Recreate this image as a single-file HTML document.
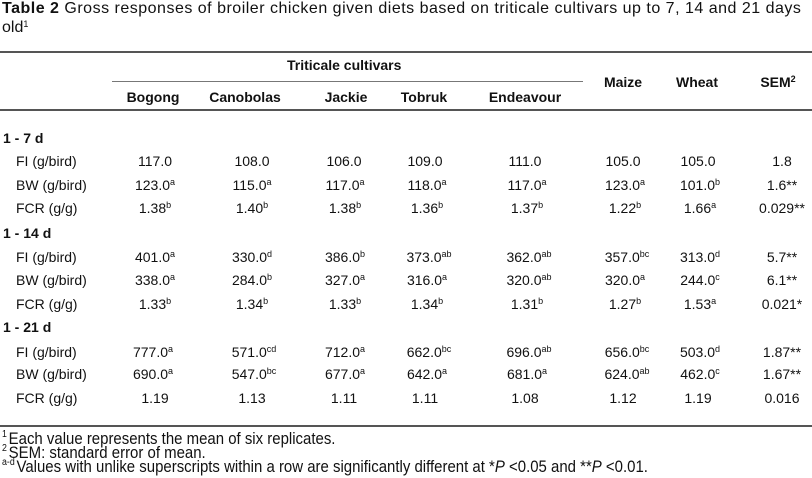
<!DOCTYPE html>
<html><head><meta charset="utf-8"><style>
body{margin:0;background:#fff;width:812px;height:478px;position:relative;overflow:hidden;font-family:"Liberation Sans",Arial,sans-serif;color:#111;}
.t{position:absolute;font-size:14px;white-space:nowrap;line-height:16px}
.r{position:absolute;left:0;width:812px;height:16px}
.c{position:absolute;width:120px;margin-left:-60px;text-align:center;font-size:14px;line-height:16px;white-space:nowrap}
.l{position:absolute;left:16px;font-size:14px;line-height:16px;white-space:nowrap}
.b{font-weight:bold}
sup{font-size:9px;line-height:0;vertical-align:5px}
.h{position:absolute;background:#555;height:2px}
.f{font-size:17px;line-height:18px;transform:scaleX(0.88);transform-origin:0 0}
.f sup{font-size:10px;vertical-align:7px;margin-right:2px}
</style></head><body>
<div class="t" style="left:2px;top:0px;font-size:16px;line-height:18px;letter-spacing:0.5px"><b>Table 2</b> Gross responses of broiler chicken given diets based on triticale cultivars up to 7, 14 and 21 days</div>
<div class="t" style="left:2px;top:19px;font-size:16px;line-height:18px">old<sup>1</sup></div>
<div class="h" style="left:0;width:812px;top:51px"></div>
<div class="t b" style="left:287px;top:57px">Triticale cultivars</div>
<div class="h" style="left:112px;width:471px;top:81px;height:1px;background:#777"></div>
<div class="r" style="top:89px">
<div class="c b" style="left:153px">Bogong</div><div class="c b" style="left:245px">Canobolas</div><div class="c b" style="left:346px">Jackie</div><div class="c b" style="left:424px">Tobruk</div><div class="c b" style="left:525px">Endeavour</div></div>
<div class="r" style="top:74px">
<div class="c b" style="left:623px">Maize</div><div class="c b" style="left:697px">Wheat</div><div class="c b" style="left:778px">SEM<sup>2</sup></div></div>
<div class="h" style="left:0;width:812px;top:109px"></div>

<div class="l b" style="top:130px;left:3px">1 - 7 d</div>
<div class="r" style="top:153px"><div class="l">FI (g/bird)</div>
<div class="c" style="left:155px">117.0</div><div class="c" style="left:252px">108.0</div><div class="c" style="left:344px">106.0</div><div class="c" style="left:425px">109.0</div><div class="c" style="left:525px">111.0</div><div class="c" style="left:623px">105.0</div><div class="c" style="left:698px">105.0</div><div class="c" style="left:782px">1.8</div></div>
<div class="r" style="top:177px"><div class="l">BW (g/bird)</div>
<div class="c" style="left:155px">123.0<sup>a</sup></div><div class="c" style="left:252px">115.0<sup>a</sup></div><div class="c" style="left:345px">117.0<sup>a</sup></div><div class="c" style="left:427px">118.0<sup>a</sup></div><div class="c" style="left:527px">117.0<sup>a</sup></div><div class="c" style="left:625px">123.0<sup>a</sup></div><div class="c" style="left:700px">101.0<sup>b</sup></div><div class="c" style="left:782px">1.6**</div></div>
<div class="r" style="top:200px"><div class="l">FCR (g/g)</div>
<div class="c" style="left:155px">1.38<sup>b</sup></div><div class="c" style="left:252px">1.40<sup>b</sup></div><div class="c" style="left:345px">1.38<sup>b</sup></div><div class="c" style="left:427px">1.36<sup>b</sup></div><div class="c" style="left:527px">1.37<sup>b</sup></div><div class="c" style="left:625px">1.22<sup>b</sup></div><div class="c" style="left:700px">1.66<sup>a</sup></div><div class="c" style="left:782px">0.029**</div></div>

<div class="l b" style="top:225px;left:3px">1 - 14 d</div>
<div class="r" style="top:249px"><div class="l">FI (g/bird)</div>
<div class="c" style="left:155px">401.0<sup>a</sup></div><div class="c" style="left:252px">330.0<sup>d</sup></div><div class="c" style="left:345px">386.0<sup>b</sup></div><div class="c" style="left:429px">373.0<sup>ab</sup></div><div class="c" style="left:529px">362.0<sup>ab</sup></div><div class="c" style="left:627px">357.0<sup>bc</sup></div><div class="c" style="left:700px">313.0<sup>d</sup></div><div class="c" style="left:782px">5.7**</div></div>
<div class="r" style="top:272px"><div class="l">BW (g/bird)</div>
<div class="c" style="left:155px">338.0<sup>a</sup></div><div class="c" style="left:252px">284.0<sup>b</sup></div><div class="c" style="left:345px">327.0<sup>a</sup></div><div class="c" style="left:427px">316.0<sup>a</sup></div><div class="c" style="left:529px">320.0<sup>ab</sup></div><div class="c" style="left:625px">320.0<sup>a</sup></div><div class="c" style="left:700px">244.0<sup>c</sup></div><div class="c" style="left:782px">6.1**</div></div>
<div class="r" style="top:296px"><div class="l">FCR (g/g)</div>
<div class="c" style="left:155px">1.33<sup>b</sup></div><div class="c" style="left:252px">1.34<sup>b</sup></div><div class="c" style="left:345px">1.33<sup>b</sup></div><div class="c" style="left:427px">1.34<sup>b</sup></div><div class="c" style="left:527px">1.31<sup>b</sup></div><div class="c" style="left:625px">1.27<sup>b</sup></div><div class="c" style="left:700px">1.53<sup>a</sup></div><div class="c" style="left:782px">0.021*</div></div>

<div class="l b" style="top:319px;left:3px">1 - 21 d</div>
<div class="r" style="top:344px"><div class="l">FI (g/bird)</div>
<div class="c" style="left:153px">777.0<sup>a</sup></div><div class="c" style="left:254px">571.0<sup>cd</sup></div><div class="c" style="left:345px">712.0<sup>a</sup></div><div class="c" style="left:429px">662.0<sup>bc</sup></div><div class="c" style="left:529px">696.0<sup>ab</sup></div><div class="c" style="left:627px">656.0<sup>bc</sup></div><div class="c" style="left:700px">503.0<sup>d</sup></div><div class="c" style="left:782px">1.87**</div></div>
<div class="r" style="top:366px"><div class="l">BW (g/bird)</div>
<div class="c" style="left:153px">690.0<sup>a</sup></div><div class="c" style="left:254px">547.0<sup>bc</sup></div><div class="c" style="left:345px">677.0<sup>a</sup></div><div class="c" style="left:427px">642.0<sup>a</sup></div><div class="c" style="left:527px">681.0<sup>a</sup></div><div class="c" style="left:627px">624.0<sup>ab</sup></div><div class="c" style="left:700px">462.0<sup>c</sup></div><div class="c" style="left:782px">1.67**</div></div>
<div class="r" style="top:390px"><div class="l">FCR (g/g)</div>
<div class="c" style="left:155px">1.19</div><div class="c" style="left:252px">1.13</div><div class="c" style="left:344px">1.11</div><div class="c" style="left:425px">1.11</div><div class="c" style="left:525px">1.08</div><div class="c" style="left:623px">1.12</div><div class="c" style="left:698px">1.19</div><div class="c" style="left:782px">0.016</div></div>

<div class="h" style="left:0;width:812px;top:425px"></div>
<div class="t f" style="left:2px;top:430px"><sup>1</sup>Each value represents the mean of six replicates.</div>
<div class="t f" style="left:2px;top:444px"><sup>2</sup>SEM: standard error of mean.</div>
<div class="t f" style="left:2px;top:458px"><sup>a-d</sup>Values with unlike superscripts within a row are significantly different at *<i>P</i> &lt;0.05 and **<i>P</i> &lt;0.01.</div>
</body></html>
